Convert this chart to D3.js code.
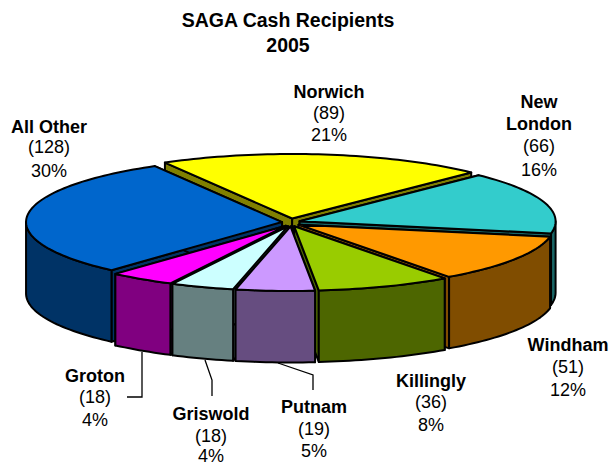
<!DOCTYPE html>
<html><head><meta charset="utf-8">
<script src="https://cdn.jsdelivr.net/npm/d3@7/dist/d3.min.js"></script>
<style>html,body{margin:0;padding:0;background:#fff}svg{display:block}text{font-family:"Liberation Sans",Arial,sans-serif;fill:#000}</style>
</head><body><svg id="c" width="610" height="463"></svg>
<script>
const titleLines = ["SAGA Cash Recipients", "2005"];
const categories = ["Norwich", "New London", "Windham", "Killingly", "Putnam", "Griswold", "Groton", "All Other"];
const values = [89, 66, 51, 36, 19, 18, 18, 128];
const percents = ["21%", "16%", "12%", "8%", "5%", "4%", "4%", "30%"];
const topColors = ["#FFFF00", "#33CCCC", "#FF9900", "#99CC00", "#CC99FF", "#CCFFFF", "#FF00FF", "#0066CC"];
const wallColors = ["#808000", "#196666", "#804D00", "#4D6600", "#664D80", "#668080", "#800080", "#003366"];

// layout
const cx = 291, cy = 222.5, rx = 256, ry = 64.5, depth = 71.5, exX = 9, exY = 4;
const startDeg = -30.5;
const labelLayout = [
  {x:329, ys:[98,119,141], lines:["Norwich"]},
  {x:539, ys:[108,130,152,176], lines:["New","London"]},
  {x:568, ys:[351,373,396], lines:["Windham"]},
  {x:431, ys:[387,408,431], lines:["Killingly"]},
  {x:314, ys:[413,435,457], lines:["Putnam"]},
  {x:211, ys:[420,442,462], lines:["Griswold"]},
  {x:95, ys:[382,403,426], lines:["Groton"]},
  {x:49, ys:[133,153,177], lines:["All Other"]}
];
const leaders = [
  [[142,352],[142,397],[127,397]],
  [[205,360],[212,380],[212,396]],
  [[278,363],[313,375],[313,390]]
];

const svg = d3.select("#c");
const rad = d3.scaleLinear().domain([0,360]).range([0,2*Math.PI]);
// the original's 3-D view stretches the slices nearest the viewer a little
const view = d3.scaleLinear()
  .domain([-30.5, 44.9, 100.8, 174.5, 190.6, 205.8, 221.1, 329.5].map(rad))
  .range([-29.8, 44.4, 100.8, 174.5, 192.4, 206.8, 221.8, 330.2].map(rad));
const s0 = rad(startDeg);
const arcs = d3.pie().sort(null).startAngle(s0).endAngle(s0+2*Math.PI)(values);
const line = d3.line();

function rim(o,a,dy){ return [o.x+rx*Math.sin(a), o.y-ry*Math.cos(a)+dy]; }
function samples(a0,a1,dy,o){ const n=Math.max(2,Math.ceil(Math.abs(a1-a0)*40));
  return d3.range(n+1).map(i=>rim(o,a0+(a1-a0)*i/n,dy)); }

const slices = arcs.map((p,i)=>{
  const d={startAngle:view(p.startAngle),endAngle:view(p.endAngle)};
  const mid=(d.startAngle+d.endAngle)/2;
  return {d,i,mid,o:{x:cx+exX*Math.sin(mid),y:cy-exY*Math.cos(mid)}};
});
const order = slices.slice().sort((a,b)=>(-Math.cos(a.mid))-(-Math.cos(b.mid)));
const HP=Math.PI/2;

order.forEach(s=>{
  const g=svg.append("g").attr("stroke","#000").attr("stroke-width",2).attr("stroke-linejoin","round");
  const {o,d,i}=s, ap=[o.x,o.y], ap2=[o.x,o.y+depth];
  [d.startAngle,d.endAngle].forEach(a=>{
    g.append("path").attr("d",line([ap,rim(o,a,0),rim(o,a,depth),ap2])+"Z").attr("fill",wallColors[i]);
  });
  // outer wall: only the front half of the rim faces the viewer
  const lo=Math.max(d.startAngle,HP), hi=Math.min(d.endAngle,3*HP);
  if(hi>lo){
    g.append("path").attr("d",line(samples(lo,hi,0,o).concat(samples(hi,lo,depth,o)))+"Z").attr("fill",wallColors[i]);
  }
  g.append("path").attr("d",line([ap].concat(samples(d.startAngle,d.endAngle,0,o)))+"Z").attr("fill",topColors[i]);
});

svg.append("g").attr("fill","none").attr("stroke","#000").attr("stroke-width",1.3)
  .selectAll("path").data(leaders).join("path").attr("d",d=>line(d));

svg.selectAll("text.t").data(titleLines).join("text").attr("class","t")
  .attr("x",288).attr("y",(d,i)=>27+i*25).attr("text-anchor","middle")
  .attr("font-size",19.5).attr("font-weight","bold").text(d=>d);

categories.forEach((c,i)=>{
  const L=labelLayout[i];
  const rows=L.lines.map(t=>({t,b:true})).concat([{t:"("+values[i]+")",b:false},{t:percents[i],b:false}]);
  rows.forEach((r,j)=>{
    svg.append("text").attr("x",L.x).attr("y",L.ys[j]).attr("text-anchor","middle")
      .attr("font-size",18).attr("font-weight",r.b?"bold":"normal").text(r.t);
  });
});
</script></body></html>
